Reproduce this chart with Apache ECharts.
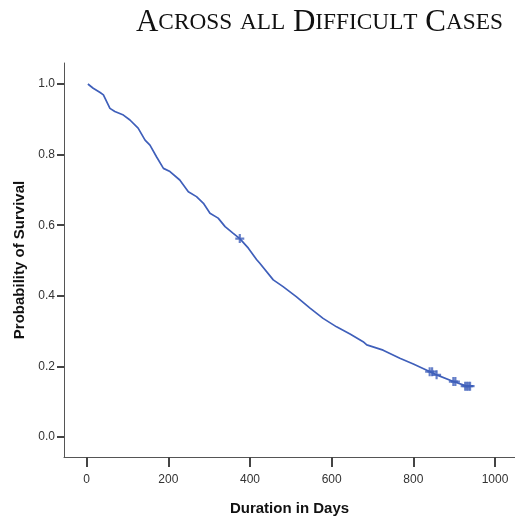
<!DOCTYPE html>
<html>
<head>
<meta charset="utf-8">
<script src="https://cdn.jsdelivr.net/npm/echarts@6/dist/echarts.min.js"></script>
<style>html,body{margin:0;padding:0;background:#fff;}#c{width:515px;height:521px;}</style>
</head>
<body>
<div id="c"></div>
<script>
var titleText = "ACROSS ALL DIFFICULT CASES";
var xName = "Duration in Days";
var yName = "Probability of Survival";
var xTicks = [0, 200, 400, 600, 800, 1000];
var yTicks = [0, 0.2, 0.4, 0.6, 0.8, 1.0];
var times = [3, 16, 33, 41, 57, 69, 90, 106, 126, 143, 155, 171, 188, 204, 228, 249, 269, 286, 302, 322, 339, 359, 375, 396, 416, 424, 457, 481, 514, 547, 579, 612, 645, 677, 686, 726, 767, 800, 841, 857, 898, 931, 947];
var surv  = [1.0, 0.988, 0.976, 0.969, 0.931, 0.922, 0.912, 0.898, 0.875, 0.841, 0.827, 0.794, 0.761, 0.752, 0.728, 0.695, 0.681, 0.662, 0.634, 0.620, 0.596, 0.577, 0.562, 0.535, 0.503, 0.492, 0.445, 0.426, 0.397, 0.365, 0.336, 0.312, 0.292, 0.270, 0.261, 0.246, 0.223, 0.207, 0.185, 0.176, 0.157, 0.144, 0.144];
var censorTimes = [375, 840, 846, 857, 898, 903, 927, 931, 935, 939];
var censorSurv  = [0.562, 0.185, 0.185, 0.176, 0.157, 0.157, 0.144, 0.144, 0.144, 0.144];

function smallCaps(s) {
  var out = "", words = s.split(" ");
  words.forEach(function (w, wi) {
    if (wi > 0) out += "{b| }";
    w = w.toLowerCase();
    var firstCap = (wi === 0 || w === "difficult" || w === "cases");
    for (var i = 0; i < w.length; i++) {
      var ch = w[i].toUpperCase();
      if (i === 0 && firstCap) out += "{b|" + ch + "}";
      else out += "{s|" + ch + "}";
    }
  });
  return out;
}

var chart = echarts.init(document.getElementById('c'), null, {renderer: 'canvas'});
var lineData = times.map(function (t, i) { return [t, surv[i]]; });
var censorData = censorTimes.map(function (t, i) { return [t, censorSurv[i]]; });
var blue = '#3f5fba';
var plus = 'path://M-1.2,-5H1.2V-1.2H5V1.2H1.2V5H-1.2V1.2H-5V-1.2H-1.2Z';

chart.setOption({
  animation: false,
  backgroundColor: '#ffffff',
  title: {
    text: smallCaps(titleText),
    right: 7,
    top: 2,
    textStyle: {
      fontWeight: 'normal',
      rich: {
        b: {fontFamily: 'Liberation Serif', fontSize: 31, fontWeight: 'normal', color: '#111'},
        s: {fontFamily: 'Liberation Serif', fontSize: 23.3, fontWeight: 'normal', color: '#111'}
      }
    }
  },
  grid: {left: 64, right: 0, top: 63, bottom: 64, containLabel: false},
  xAxis: {
    type: 'value',
    min: -55.5,
    max: 1049,
    name: xName,
    nameLocation: 'middle',
    nameGap: 44,
    nameTextStyle: {fontFamily: 'Liberation Sans', fontWeight: 'bold', fontSize: 15, color: '#111'},
    axisLine: {show: true, onZero: false, lineStyle: {color: '#555', width: 1}},
    axisTick: {show: true, customValues: xTicks, length: 10, lineStyle: {color: '#444', width: 2}},
    axisLabel: {customValues: xTicks, margin: 17, fontFamily: 'Liberation Sans', fontSize: 12, color: '#333',
      formatter: function (v) { return String(v); }},
    splitLine: {show: false}
  },
  yAxis: {
    type: 'value',
    min: -0.0567,
    max: 1.0595,
    name: yName,
    nameLocation: 'middle',
    nameGap: 36,
    nameTextStyle: {fontFamily: 'Liberation Sans', fontWeight: 'bold', fontSize: 15, color: '#111'},
    axisLine: {show: true, onZero: false, lineStyle: {color: '#555', width: 1}},
    axisTick: {show: true, customValues: yTicks, length: 7, lineStyle: {color: '#444', width: 2}},
    axisLabel: {customValues: yTicks, margin: 9, fontFamily: 'Liberation Sans', fontSize: 12, color: '#333',
      formatter: function (v) { return v.toFixed(1); }},
    splitLine: {show: false}
  },
  series: [
    {
      type: 'line',
      data: lineData,
      showSymbol: false,
      symbol: 'none',
      lineStyle: {color: blue, width: 1.7},
      z: 2
    },
    {
      type: 'scatter',
      data: censorData,
      symbol: plus,
      symbolSize: 9,
      itemStyle: {color: blue},
      z: 3
    }
  ]
});
</script>
</body>
</html>
